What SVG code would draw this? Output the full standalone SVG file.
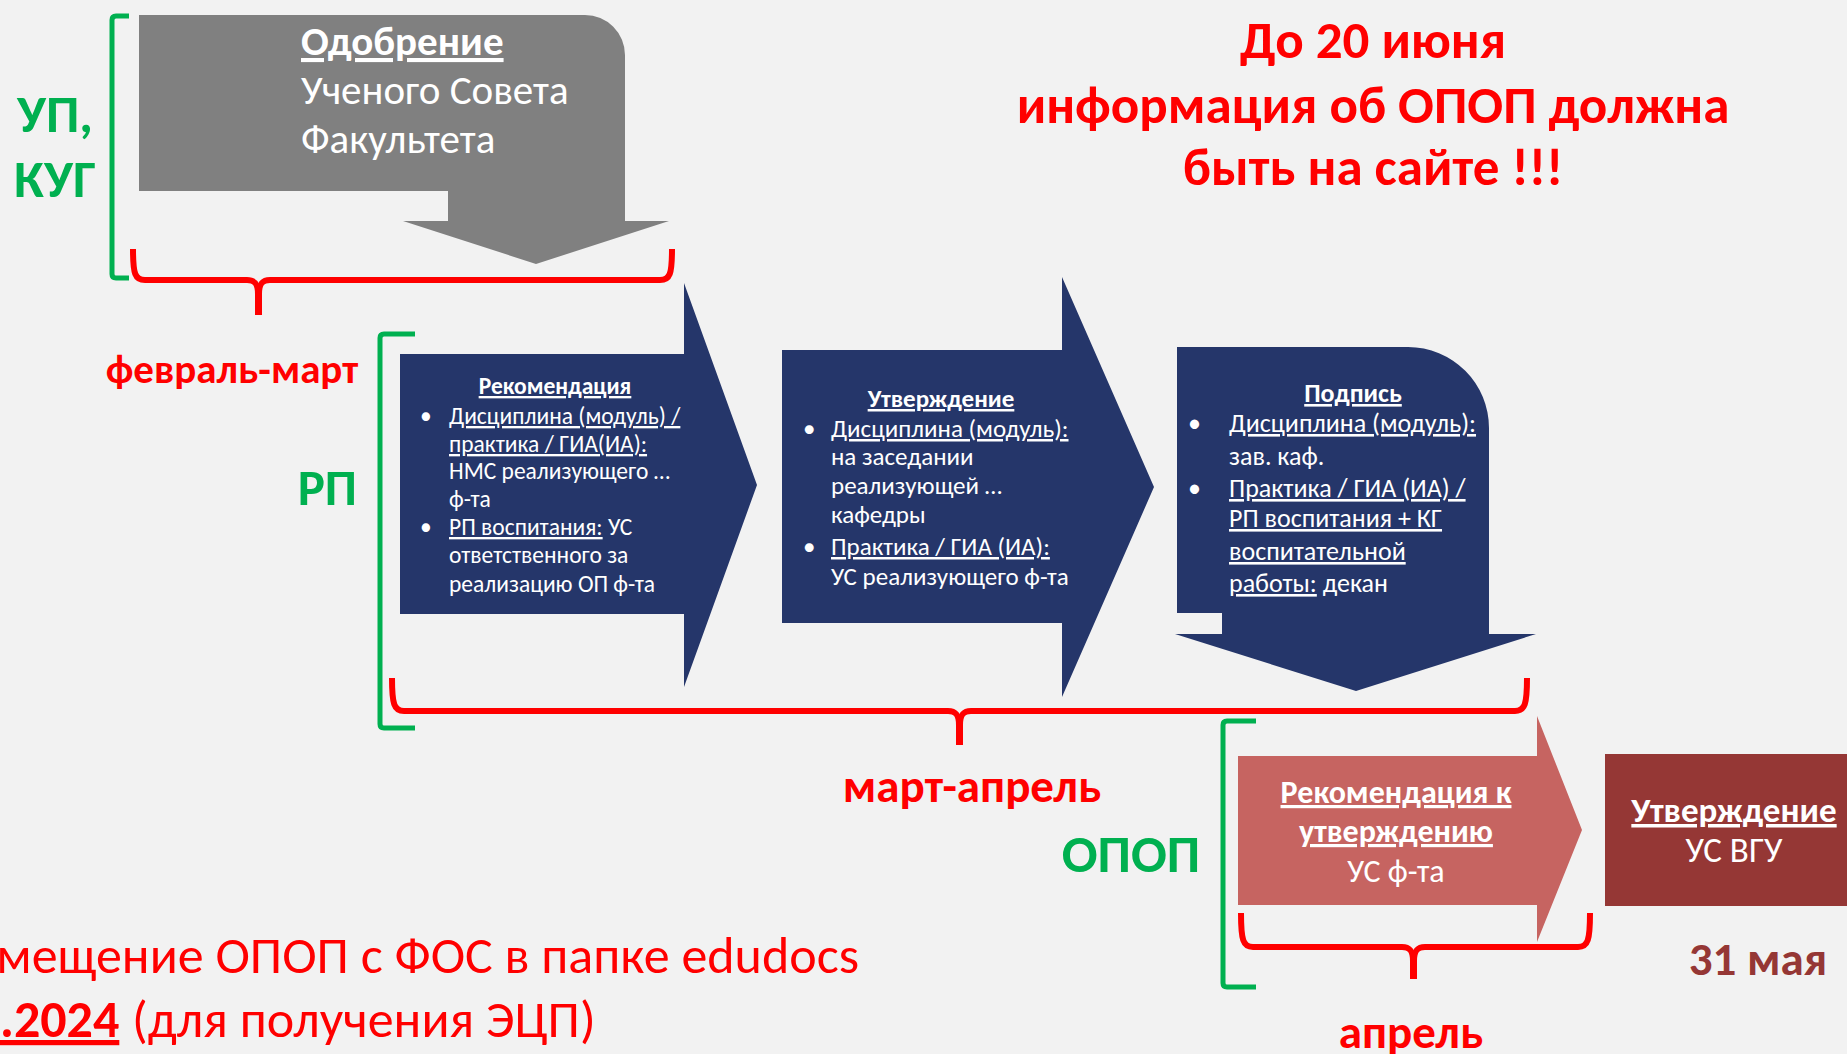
<svg xmlns="http://www.w3.org/2000/svg" width="1847" height="1054" viewBox="0 0 1847 1054">
<style>
text{font-family:Carlito,"Open Sans",sans-serif}
.w{fill:#FFFFFF}
.b{font-weight:bold}
.u{text-decoration:underline}
.red{fill:#FF0000}
.grn{fill:#00B050}
.gbr{fill:none;stroke:#00B050;stroke-width:5;stroke-linejoin:round}
.rbr{fill:none;stroke:#FF0000;stroke-width:6;stroke-linejoin:round}
.navy{fill:#25366A}
.s1{font-size:23.5px}
.s2{font-size:25px}
.s3{font-size:26px}
</style>
<rect width="1847" height="1054" fill="#F2F2F2"/>

<g id="connectors">
  <path class="gbr" d="M129,16 H116 Q112,16 112,20 V274 Q112,278 116,278 H129"/>
  <path class="gbr" d="M415,334 H384 Q380,334 380,338 V724 Q380,728 384,728 H415"/>
  <path class="gbr" d="M1256,721 H1227 Q1223,721 1223,725 V983 Q1223,987 1227,987 H1256"/>
  <path class="rbr" d="M133,249 C133,274 135,280 145,280 H247 C255,280 258,284 258,294 V315"/>
  <path class="rbr" d="M672,249 C672,274 670,280 660,280 H270 C262,280 259,284 259,294 V315"/>
  <path class="rbr" d="M392,678 C392,704 394,711 404,711 H948 C956,711 959,715 959,725 V745"/>
  <path class="rbr" d="M1527,678 C1527,704 1525,711 1515,711 H971 C963,711 960,715 960,725 V745"/>
  <path class="rbr" d="M1241,913 C1241,940 1243,947 1253,947 H1402 C1410,947 1413,951 1413,961 V979"/>
  <path class="rbr" d="M1590,913 C1590,940 1588,947 1578,947 H1425 C1417,947 1414,951 1414,961 V979"/>
</g>

<g id="approval-faculty">
  <path d="M139,15 H585 A40,40 0 0 1 625,55 V221 H669 L536,264 L403,221 H448 V191 H139 Z" fill="#808080"/>
  <text class="w" font-size="41" x="301" y="55"><tspan class="b u">Одобрение</tspan></text>
  <text class="w" font-size="41" x="301" y="104">Ученого Совета</text>
  <text class="w" font-size="41" x="301" y="153">Факультета</text>
</g>

<g id="label-up-kug">
  <text class="grn b" font-size="53" x="55" y="132" text-anchor="middle">УП,</text>
  <text class="grn b" font-size="53" x="55" y="197" text-anchor="middle">КУГ</text>
</g>

<g id="label-feb-mar">
  <text class="red b" font-size="41" x="232" y="383" text-anchor="middle">февраль-март</text>
</g>

<g id="label-rp">
  <text class="grn b" font-size="51" x="357" y="505" text-anchor="end">РП</text>
</g>

<g id="recommendation">
  <path class="navy" d="M400,354 H684 V283 L757,485 L684,687 V614 H400 Z"/>
  <g class="w s1">
    <text x="555" y="394" text-anchor="middle" class="b u">Рекомендация</text>
    <text x="420" y="424">•</text>
    <text x="449" y="424" class="u">Дисциплина (модуль) /</text>
    <text x="449" y="452" class="u">практика / ГИА(ИА):</text>
    <text x="449" y="479">НМС реализующего …</text>
    <text x="449" y="507">ф-та</text>
    <text x="420" y="535">•</text>
    <text x="449" y="535"><tspan class="u">РП воспитания:</tspan> УС</text>
    <text x="449" y="563">ответственного за</text>
    <text x="449" y="592">реализацию ОП ф-та</text>
  </g>
</g>

<g id="approval">
  <path class="navy" d="M782,350 H1062 V277 L1154,487 L1062,697 V623 H782 Z"/>
  <g class="w s2">
    <text x="941" y="407" text-anchor="middle" class="b u">Утверждение</text>
    <text x="803" y="437">•</text>
    <text x="831" y="437" class="u">Дисциплина (модуль):</text>
    <text x="831" y="465">на заседании</text>
    <text x="831" y="494">реализующей …</text>
    <text x="831" y="523">кафедры</text>
    <text x="803" y="555">•</text>
    <text x="831" y="555" class="u">Практика / ГИА (ИА):</text>
    <text x="831" y="585">УС реализующего ф-та</text>
  </g>
</g>

<g id="signature">
  <path class="navy" d="M1177,347 H1408 A81,81 0 0 1 1489,428 V634 H1536 L1356,691 L1175,634 H1222 V613 H1177 Z"/>
  <g class="w s3">
    <text x="1353" y="402" text-anchor="middle" class="b u">Подпись</text>
    <text x="1188" y="432">•</text>
    <text x="1229" y="432" class="u">Дисциплина (модуль):</text>
    <text x="1229" y="465">зав. каф.</text>
    <text x="1188" y="497">•</text>
    <text x="1229" y="497" class="u">Практика / ГИА (ИА) /</text>
    <text x="1229" y="527" class="u">РП воспитания + КГ</text>
    <text x="1229" y="560" class="u">воспитательной</text>
    <text x="1229" y="592"><tspan class="u">работы:</tspan> декан</text>
  </g>
</g>

<g id="label-mar-apr">
  <text class="red b" font-size="47" x="972" y="802" text-anchor="middle">март-апрель</text>
</g>

<g id="deadline-note">
  <text class="red b" font-size="53" x="1373" y="58" text-anchor="middle">До 20 июня</text>
  <text class="red b" font-size="53" x="1373" y="123" text-anchor="middle">информация об ОПОП должна</text>
  <text class="red b" font-size="53" x="1373" y="185" text-anchor="middle">быть на сайте !!!</text>
</g>

<g id="label-opop">
  <text class="grn b" font-size="53" x="1131" y="872" text-anchor="middle">ОПОП</text>
</g>

<g id="recommend-approval">
  <path d="M1238,756 H1537 V716 L1582,830 L1537,942 V905 H1238 Z" fill="#C66461"/>
  <text class="w b u" font-size="32" x="1396" y="803" text-anchor="middle">Рекомендация к</text>
  <text class="w b u" font-size="32" x="1396" y="842" text-anchor="middle">утверждению</text>
  <text class="w" font-size="32" x="1396" y="882" text-anchor="middle">УС ф-та</text>
</g>

<g id="approval-vgu">
  <rect x="1605" y="754" width="242" height="152" fill="#953735"/>
  <text class="w b u" font-size="35" x="1734" y="822" text-anchor="middle">Утверждение</text>
  <text class="w" font-size="35" x="1734" y="862" text-anchor="middle">УС ВГУ</text>
</g>

<g id="label-may31">
  <text class="b" fill="#953735" font-size="47" x="1758" y="975" text-anchor="middle">31 мая</text>
</g>

<g id="label-april">
  <text class="red b" font-size="47" x="1411" y="1048" text-anchor="middle">апрель</text>
</g>

<g id="placement-note">
  <text class="red" font-size="52" x="859" y="973" text-anchor="end">мещение ОПОП с ФОС в папке edudocs</text>
  <text class="red b u" font-size="52" x="0" y="1037">.2024</text>
  <text class="red" font-size="52" x="132" y="1037">(для получения ЭЦП)</text>
</g>
</svg>
